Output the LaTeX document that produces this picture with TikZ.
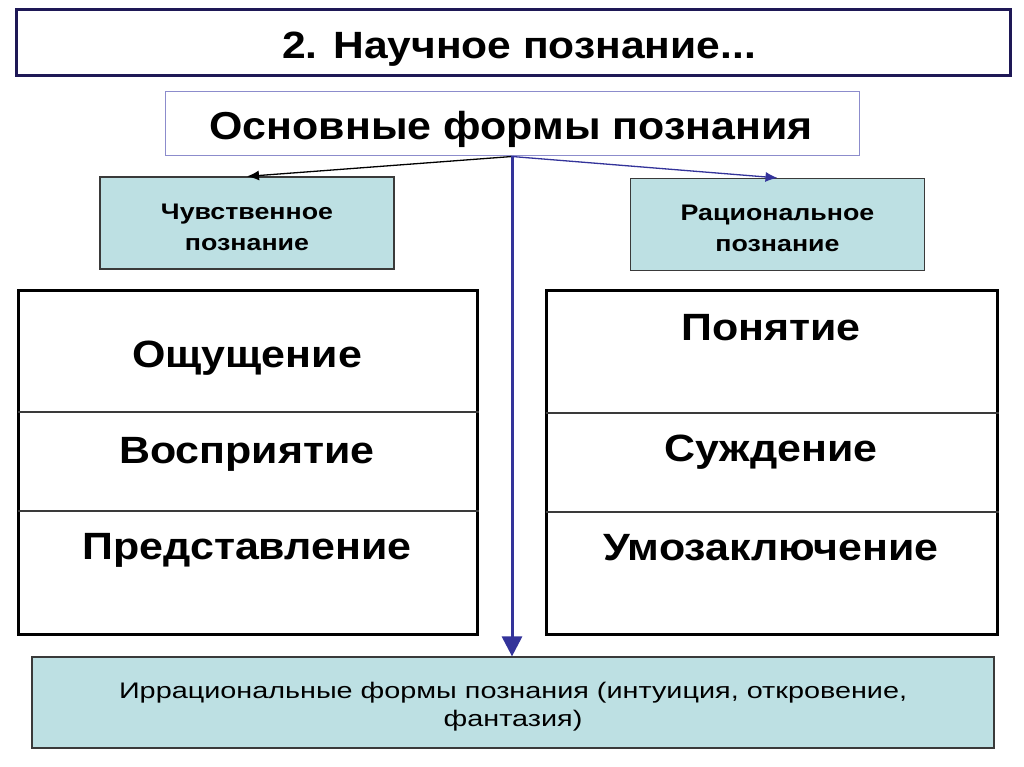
\documentclass[tikz,border=0pt]{standalone}
\usepackage{fontspec}
\setmainfont{Liberation Sans}
\newfontfamily\titlefont[FakeStretch=1.12]{Liberation Sans Bold}
\newfontfamily\mainfont[FakeStretch=1.10]{Liberation Sans Bold}
\newfontfamily\formfont[FakeStretch=1.13]{Liberation Sans Bold}
\newfontfamily\kindfont[FakeStretch=1.19]{Liberation Sans Bold}
\newfontfamily\botfont[FakeStretch=1.28]{Liberation Sans}
\usetikzlibrary{arrows.meta}
\definecolor{navy}{HTML}{1E1856}
\definecolor{lilac}{HTML}{8C8CCC}
\definecolor{teal}{HTML}{BDE0E3}
\definecolor{arrowblue}{HTML}{33339A}
\definecolor{edgegray}{HTML}{3A3A3A}
\tikzset{
  titlebox/.style={draw=navy, line width=3pt, minimum width=994pt, minimum height=66pt, inner sep=0pt},
  mainbox/.style={draw=lilac, line width=1pt, fill=white, minimum width=694pt, minimum height=64pt, inner sep=0pt},
  kindbox/.style={draw=edgegray, line width=1.2pt, fill=teal, minimum width=294pt, minimum height=92pt, inner sep=0pt},
  kindtext/.style={align=center, inner sep=0pt, font=\kindfont\fontsize{22.5}{31}\selectfont},
  tablebox/.style={draw=black, line width=3pt, inner sep=0pt},
  rowline/.style={draw=edgegray, line width=1.3pt},
  formtext/.style={font=\formfont\fontsize{38}{40}\selectfont, inner sep=0pt},
  botbox/.style={draw=edgegray, line width=1.2pt, fill=teal, minimum width=962pt, minimum height=91pt, inner sep=0pt},
  bottextstyle/.style={align=center, inner sep=0pt, font=\botfont\fontsize{22.5}{28}\selectfont},
  thinarrow/.style={line width=1.3pt, -{Latex[length=12pt,width=10pt]}},
  bigarrow/.style={arrowblue, line width=3pt, -{Triangle[length=20pt,width=20pt]}}
}
\begin{document}
\begin{tikzpicture}[x=1pt,y=-1pt]
\useasboundingbox (0,0) rectangle (1024,767);
\fill[white] (0,0) rectangle (1024,767);
% title
\node[titlebox] (title) at (513,43) {};
\node[font=\titlefont\fontsize{38}{40}\selectfont, inner sep=0pt] (titletext) at (519,49) {2. Научное познание...};
% main box
\node[mainbox] (main) at (512,124) {};
\node[font=\mainfont\fontsize{39}{42}\selectfont, inner sep=0pt] (maintext) at (511,129) {Основные формы познания};
% kind boxes
\node[kindbox] (lbox) at (247,223) {};
\node[kindtext] (ltext) at (247,227) {Чувственное\\познание};
\node[kindbox] (rbox) at (777.5,224.5) {};
\node[kindtext] (rtext) at (777.5,228.5) {Рациональное\\познание};
% tables
\node[tablebox, minimum width=459pt, minimum height=344pt] (ltab) at (247.5,462) {};
\node[tablebox, minimum width=451pt, minimum height=344pt] (rtab) at (771.5,462) {};
\coordinate (l1) at (18,412); \coordinate (l2) at (18,511);
\coordinate (r1) at (546,413); \coordinate (r2) at (546,512);
\draw[rowline] (l1) -- (l1 -| ltab.east);
\draw[rowline] (l2) -- (l2 -| ltab.east);
\draw[rowline] (r1) -- (r1 -| rtab.east);
\draw[rowline] (r2) -- (r2 -| rtab.east);
\node[formtext] (f1) at (247,358) {Ощущение};
\node[formtext] (f2) at (247,454) {Восприятие};
\node[formtext] (f3) at (247,550) {Представление};
\node[formtext] (f4) at (771,328) {Понятие};
\node[formtext] (f5) at (771,452) {Суждение};
\node[formtext] (f6) at (771,548) {Умозаключение};
% bottom
\node[botbox] (bot) at (513,702.5) {};
\node[bottextstyle] (bottext) at (513,707) {Иррациональные формы познания (интуиция, откровение,\\фантазия)};
% arrows
\draw[thinarrow, black] (main.south) -- (lbox.north);
\draw[thinarrow, arrowblue] (main.south) -- (rbox.north);
\draw[bigarrow] (main.south) -- (main.south |- bot.north);
\end{tikzpicture}
\end{document}
